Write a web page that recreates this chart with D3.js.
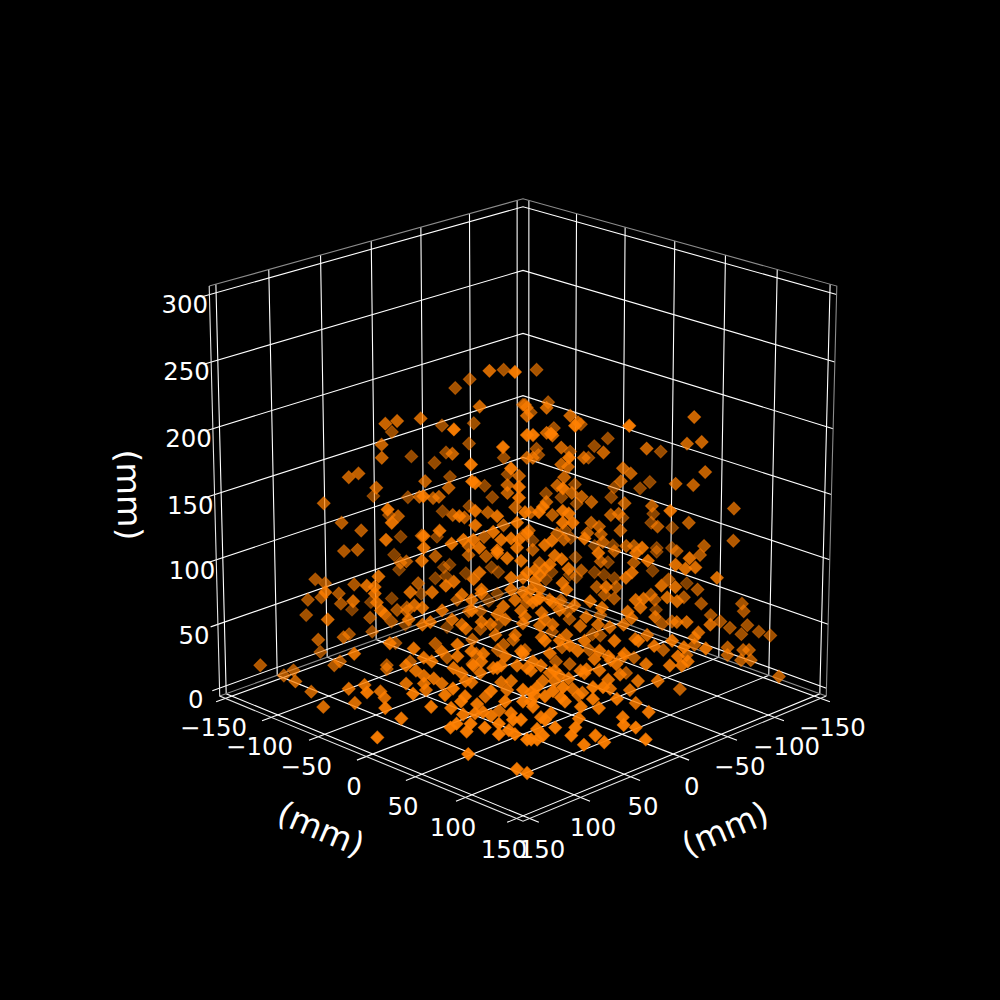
<!DOCTYPE html>
<html>
<head>
<meta charset="utf-8">
<script src="https://cdn.jsdelivr.net/npm/d3@7"></script>
<style>
    html, body { margin: 0; background: #000; }
    text { font-family: "DejaVu Sans", sans-serif; fill: #fff; }
</style>
</head>
<body>
<svg id="base" width="1000" height="1000"></svg>
<script>
// ticks
const xTicks = [-150, -100, -50, 0, 50, 100, 150];
const yTicks = [-150, -100, -50, 0, 50, 100, 150];
const zTicks = [0, 50, 100, 150, 200, 250, 300];
const axisLabel = "(mm)";

// points, [x, y, z] in mm, one array per part of the cloud
const upperLeft = [
    [-3,-37,234],[-50,-70,216],[24,16,252],[-32,-87,209],[-25,-95,202],[2,-42,207],[-34,-85,175],[32,-72,198],
    [44,-84,196],[50,-90,194],[8,-128,168],[-18,-102,173],[54,-15,209],[-32,-88,159],[52,-92,178],[52,-92,168],
    [-2,-118,149],[-14,-106,144],[-20,-100,152],[16,-56,171],[30,10,196],[-50,-70,148],[46,-6,183],[69,-109,153],
    [64,-104,156],[55,-95,145],[18,-138,118],[30,-70,150],[-22,-98,133],[18,-58,145],[82,-122,133],[0,-120,117],
    [33,-73,138],[70,-30,159],[26,-66,137],[23,-63,138],[45,-6,170],[44,-4,169],[-40,-80,126],[-44,-76,117],
    [26,14,180],[-52,-68,135],[-18,-22,154],[-12,-28,147],[22,18,166],[-12,-28,141],[22,18,158],[-60,-60,189],
    [-22,-18,200],[-62,-58,187],[18,22,205],[-22,-18,168],[88,-48,149],[10,-130,103],[44,-84,123],[86,-46,139],
    [73,-113,118],[63,-103,112],[-18,-102,106],[16,-56,124],[52,-12,144],[10,-50,122],[-32,-88,110],[44,-4,148],
    [-2,-38,126],[33,7,144],[-16,-24,130],[19,21,147],[23,17,139],[-10,-30,116],[35,5,132],[18,22,131],
    [62,-22,133],[70,-30,129],[32,-72,108],[-15,-105,86],[89,-49,126],[4,-124,86],[56,-16,123],[50,-10,126],
    [45,-5,126],[0,-40,107],[26,14,127],[22,18,126],[70,-30,120],[42,-2,120],[8,-48,100],[33,7,118],[23,17,120]
];
const upperRight = [
    [-67,-53,216],[-73,-47,191],[-61,-59,189],[-32,-8,206],[-64,-56,183],[-44,4,200],[-6,46,212],[-48,8,195],
    [-90,-30,174],[-76,-44,171],[-33,73,212],[-107,67,199],[15,25,205],[-32,-8,187],[6,34,206],[-35,-5,185],
    [-104,-16,163],[-97,-23,157],[-61,21,172],[-83,43,175],[-131,12,153],[-103,64,179],[-111,71,180],[-39,0,176],
    [-84,-35,153],[-67,-53,155],[-68,-52,150],[-25,-15,168],[-3,43,188],[-39,0,163],[-43,3,161],[-51,11,168],
    [-94,-26,148],[-41,1,153],[-71,31,160],[-75,35,156],[-113,73,157],[-98,58,148],[-107,67,147],[-126,6,129],
    [-121,1,124],[-70,30,150],[-107,-12,125],[-106,-14,117],[-87,-33,127],[-37,-2,147],[0,40,165],[-45,5,141],
    [-72,-48,120],[-80,-40,117],[-50,10,138],[-88,-32,112],[-55,15,134],[-72,32,133],[-86,46,131],[-54,94,148],
    [-128,88,129],[-128,8,104],[-65,25,124],[-69,29,125],[-112,-8,101],[-32,-8,134],[10,30,151],[12,28,147],
    [-24,-16,126],[-35,-5,124],[0,40,148],[-3,43,146],[0,40,139],[-5,45,139],[-55,15,118],[-59,19,115],
    [-60,20,109],[-127,7,97],[-89,49,115],[-138,18,93],[-105,65,118],[-70,30,112],[-23,-17,112],[-82,-38,91],
    [-37,-2,110],[5,34,125],[-41,1,105],[-53,13,110],[-11,51,127],[-85,-35,85],[-65,-55,83],[-60,-60,87],
    [-128,88,104],[-61,21,103],[-97,-22,79],[-107,-13,79],[-73,33,100],[-40,80,120],[-77,37,100],[-113,73,100],
    [-138,18,77],[-130,10,77]
];
const midLeft = [
    [72,-112,96],[65,-105,97],[8,-127,72],[71,-31,110],[25,-65,92],[43,-83,87],[40,-80,88],[5,-125,60],
    [93,-53,98],[87,-127,74],[82,-122,71],[120,-80,86],[67,-107,70],[99,-59,91],[95,-55,90],[75,-115,63],
    [91,-131,58],[84,-124,60],[106,-66,79],[74,-114,55],[30,-150,28],[20,-140,34],[92,-132,46],[119,-79,65],
    [59,-99,44],[95,-55,85],[94,-54,78],[9,-129,37],[92,-52,72],[90,-50,69],[45,-85,50],[40,-80,52],
    [75,-35,76],[71,-31,74],[77,-37,86],[-6,-113,41],[34,-74,71],[-14,-106,53],[66,-26,86],[-18,-101,62],
    [-21,-98,64],[-19,-100,55],[59,-19,91],[55,-15,94],[-30,-90,57],[8,-48,93],[45,-5,96],[42,-2,101],
    [-1,-39,92],[33,7,116],[28,12,112],[-43,-76,62],[-47,-73,58],[26,14,97],[20,20,97],[51,-11,84],
    [14,-54,58],[41,-1,85],[-46,-73,41],[20,20,86],[30,10,75],[21,19,72],[-22,-18,60],[46,-6,72],
    [2,-42,49],[-42,-78,35],[8,-48,49],[56,-16,65],[67,-27,63],[78,-38,65],[40,-80,49],[48,-88,41],
    [2,-122,16],[-20,-100,14],[58,-98,33],[49,-9,58],[2,-42,35],[-46,-73,16],[34,6,53],[20,20,62],
    [24,16,53],[73,7,57],[26,-26,38],[105,-105,38],[92,-92,40],[70,-110,31],[107,-27,58],[46,-86,24],
    [125,-45,50],[85,-125,17],[95,-15,54],[45,-45,35],[90,-10,47],[39,-39,24],[73,7,48],[60,20,50],
    [13,-13,30],[10,-10,34],[5,-5,38],[24,-24,27],[40,40,50],[65,15,41],[75,5,39],[58,-58,21],
    [70,-70,18],[53,27,39],[43,37,41]
];
const midRight = [
    [-25,-15,97],[0,39,111],[-28,-11,87],[6,33,107],[-75,-45,58],[14,26,95],[-3,43,104],[-87,-32,70],
    [-84,-35,56],[-50,10,81],[-88,-32,54],[-97,-22,58],[-18,58,116],[-60,20,88],[-104,-15,66],[-67,27,96],
    [-37,77,116],[-43,83,110],[-77,37,87],[-35,75,101],[-108,-12,53],[-32,72,97],[-102,-17,56],[-130,10,74],
    [-99,59,96],[-64,104,112],[-111,71,93],[-57,97,107],[-62,102,104],[-67,107,105],[-128,8,59],[-50,90,91],
    [-95,55,74],[-57,97,90],[-146,26,49],[-110,70,66],[-78,118,97],[-58,18,68],[-22,62,90],[-68,28,68],
    [0,40,93],[-2,42,88],[-72,-48,52],[11,28,81],[5,35,78],[-39,0,58],[-14,54,79],[-62,22,62],
    [-67,27,59],[-37,77,80],[-41,81,81],[-86,46,62],[-88,48,58],[-53,93,82],[-58,98,79],[-103,63,60],
    [-112,72,55],[-133,93,55],[-134,94,49],[-40,79,74],[-33,73,71],[-130,10,28],[-47,87,67],[-35,75,66],
    [-20,60,74],[-60,20,46],[-12,52,67],[-43,3,49],[-80,-40,33],[10,29,70],[-22,-18,56],[15,25,78],
    [19,21,67],[-58,98,63],[-63,103,63],[-97,57,41],[-117,77,46],[-75,115,61],[-122,82,41],[-127,87,36],
    [-136,96,38],[-133,93,31],[-142,102,33],[-148,108,30],[-69,109,55],[-67,107,51],[-92,52,39],[-24,64,59],
    [-56,16,31],[-60,20,30],[-9,49,60],[-44,4,43],[5,35,61],[11,28,60],[-2,42,53],[-35,-5,33],
    [10,29,51],[-37,77,50],[-35,115,60],[-41,121,55],[-88,88,34],[-52,132,54],[-105,105,32],[-113,113,30],
    [-116,116,30],[-105,105,26],[-112,112,22],[-117,117,22],[-72,72,30],[-38,118,48],[-84,84,26],[-40,120,41],
    [-34,114,41],[-22,102,42],[-57,57,24],[-11,91,50],[-51,51,24],[-3,83,48],[4,76,46],[12,67,52],
    [-34,34,30],[-20,20,32],[26,53,50],[35,45,44],[-1,1,30],[-24,24,19],[-17,17,21],[8,72,38],
    [-7,87,42],[38,42,39]
];
const lowLeft = [
    [135,-135,18],[118,-118,14],[123,-123,10],[136,-96,17],[97,-97,18],[94,-94,21],[128,-88,9],[141,-61,9],
    [128,-48,23],[125,-45,12],[120,-40,26],[138,-18,32],[112,-32,21],[110,-30,16],[129,-9,20],[121,-1,12],
    [150,5,8],[70,-70,15],[99,-19,41],[99,-19,27],[115,5,31],[90,-10,27],[94,-14,37],[90,-10,33],
    [85,-5,31],[81,-1,27],[99,21,30],[95,25,35],[106,14,21],[96,24,20],[71,9,35],[66,14,28],
    [89,31,29],[59,21,17],[83,37,23],[90,30,15],[84,36,16],[80,40,17],[52,28,6],[66,54,16],
    [85,75,23],[92,68,20],[99,61,17],[106,54,20],[108,52,14],[116,44,17],[113,47,20],[92,68,12],
    [87,73,15],[127,73,9],[123,117,10],[118,122,7],[98,102,20],[60,60,25],[48,32,22],[60,60,34],
    [51,29,28],[55,25,39],[61,18,35],[26,-26,19]
];
const lowRight = [
    [96,104,20],[73,87,16],[93,107,20],[70,90,11],[64,96,17],[54,106,17],[56,104,11],[44,116,11],
    [60,140,18],[70,130,16],[19,141,8],[24,136,17],[30,130,19],[10,110,13],[32,88,12],[46,74,16],
    [51,69,13],[55,65,21],[22,98,20],[-17,97,12],[-3,123,17],[13,107,27],[25,95,27],[12,68,18],
    [41,79,28],[34,46,18],[45,75,33],[40,80,36],[15,65,23],[10,70,20],[25,95,36],[20,100,36],
    [-4,84,23],[-14,94,22],[-28,108,29],[-60,100,11],[-121,141,15],[-3,83,30],[30,50,29],[53,67,36],
    [17,63,31],[36,44,37],[26,53,35],[9,71,35],[-9,89,34],[-53,53,12],[-45,45,22],[-43,123,44]
];
const denseMiddle = [
    [14,26,103],[11,28,99],[18,22,101],[9,31,104],[16,24,88],[13,27,80],[24,16,80],[29,11,65],
    [33,7,69],[36,3,61],[41,-1,63],[9,31,65],[21,58,60],[16,63,56],[9,71,60],[1,78,52],
    [-6,86,60],[-18,98,60],[-26,106,56],[86,-6,44],[66,14,52],[81,-1,52],[51,29,41],[46,34,29],
    [24,56,29],[11,69,37],[1,78,37],[49,71,29],[69,51,25],[76,44,33],[91,29,25],[89,-9,22],
    [81,79,23],[56,64,25],[39,81,25],[31,89,21],[21,58,33],[41,-1,88],[46,-6,80],[26,14,88],
    [11,28,88],[6,33,80],[1,38,72],[-6,46,76],[21,19,110],[31,9,126],[44,-4,137],[9,31,122],
    [4,36,114],[61,-21,72],[71,-31,61],[51,-11,61],[29,51,60],[41,39,52],[49,31,48],[31,49,41],
    [69,11,29],[61,19,44],[-18,58,61],[-31,71,61],[-43,83,53],[56,64,32],[76,44,14],[84,76,12],
    [69,91,23],[24,56,37],[-18,98,29]
];

// bounds of the box and of the view
const limXY = [-156.25, 156.25];
const limZ = [-6.25, 306.25];
const elevation = (20 * Math.PI) / 180;
const azimuth = (45 * Math.PI) / 180;
const eyeDist = 10;

const cubeX = d3.scaleLinear().domain(limXY).range([-0.5, 0.5]);
const cubeY = d3.scaleLinear().domain(limXY).range([-0.5, 0.5]);
const cubeZ = d3.scaleLinear().domain(limZ).range([-0.5, 0.5]);
const screenX = d3.scaleLinear().domain([-0.1, 0.1]).range([523 - 436.2, 523 + 436.2]);
const screenY = d3.scaleLinear().domain([-0.1, 0.1]).range([494.6 + 436.2, 494.6 - 436.2]);

// same view as a 3d axes looking from elevation / azimuth
function project(p) {
    const cx = cubeX(p[0]);
    const cy = cubeY(p[1]);
    const cz = cubeZ(p[2]);
    const ce = Math.cos(elevation), se = Math.sin(elevation);
    const ca = Math.cos(azimuth), sa = Math.sin(azimuth);
    const toward = cx * ce * ca + cy * ce * sa + cz * se;
    const right = -cx * sa + cy * ca;
    const up = -cx * se * ca - cy * se * sa + cz * ce;
    const w = eyeDist - toward;
    return { sx: screenX(right / w), sy: screenY(up / w), toward: toward };
}

const base = d3.select("#base");
const path = d3.line().x((d) => project(d).sx).y((d) => project(d).sy);

const [lo, hi] = limXY;
const [zLo, zHi] = limZ;

// grid on the floor and the two back walls
const gridLines = [];
xTicks.forEach((c) => gridLines.push([[c, hi + 9, zLo], [c, lo, zLo], [c, lo, zHi]]));
yTicks.forEach((c) => gridLines.push([[hi + 9, c, zLo], [lo, c, zLo], [lo, c, zHi]]));
zTicks.forEach((c) => gridLines.push([[hi + 7, lo, c], [lo, lo, c], [lo, hi, c]]));

base.append("g")
    .selectAll("path")
    .data(gridLines)
    .enter()
    .append("path")
    .attr("d", path)
    .attr("fill", "none")
    .attr("stroke", "#fff")
    .attr("stroke-width", 1.1);

// pane edges
const paneEdges = [
    [[hi, lo, zHi], [lo, lo, zHi], [lo, hi, zHi], [lo, hi, zLo]],
    [[hi, lo, zLo], [lo, lo, zLo], [lo, hi, zLo]]
];
base.append("g")
    .selectAll("path")
    .data(paneEdges)
    .enter()
    .append("path")
    .attr("d", path)
    .attr("fill", "none")
    .attr("stroke", "#8c8c8c")
    .attr("stroke-width", 1.1);

// axis lines
const axisLines = [
    [[lo, hi, zLo], [hi, hi, zLo], [hi, lo, zLo], [hi, lo, zHi]]
];
base.append("g")
    .selectAll("path")
    .data(axisLines)
    .enter()
    .append("path")
    .attr("d", path)
    .attr("fill", "none")
    .attr("stroke", "#e6e6e6")
    .attr("stroke-width", 1.1);

// points, far ones first
const points = [...upperLeft, ...upperRight, ...midLeft, ...midRight, ...lowLeft, ...lowRight, ...denseMiddle]
    .map((d) => project(d))
    .sort((a, b) => a.toward - b.toward);

const shade = d3.scaleLinear().domain([-0.35, 0.15]).range([0.5, 0.95]).clamp(true);
const diamond = d3.symbol().type(d3.symbolSquare).size(84);

base.append("g")
    .selectAll("path")
    .data(points)
    .enter()
    .append("path")
    .attr("d", diamond)
    .attr("transform", (d) => `translate(${d.sx},${d.sy}) rotate(45)`)
    .attr("fill", "#ff7f00")
    .attr("stroke", "#ff7f00")
    .attr("stroke-width", 1)
    .attr("fill-opacity", (d) => shade(d.toward))
    .attr("stroke-opacity", (d) => shade(d.toward) * 0.7);

// tick labels
const tickFormat = d3.format("d");
const tickLabels = [];
xTicks.forEach((c) => tickLabels.push({ v: c, p: project([c, hi + 12, zLo - 19]) }));
yTicks.forEach((c) => tickLabels.push({ v: c, p: project([hi + 12, c, zLo - 19]) }));
zTicks.forEach((c) => tickLabels.push({ v: c, p: project([hi + 23, lo, c - 2]) }));

base.append("g")
    .selectAll("text")
    .data(tickLabels)
    .enter()
    .append("text")
    .attr("x", (d) => d.p.sx)
    .attr("y", (d) => d.p.sy)
    .attr("text-anchor", "middle")
    .attr("dominant-baseline", "central")
    .attr("font-size", 24.4)
    .text((d) => tickFormat(d.v));

// axis labels
const labelSpots = [
    { x: 321, y: 829, angle: 23 },
    { x: 725, y: 829, angle: -23 },
    { x: 129, y: 495, angle: 88.6 }
];
base.append("g")
    .selectAll("text")
    .data(labelSpots)
    .enter()
    .append("text")
    .attr("transform", (d) => `translate(${d.x},${d.y}) rotate(${d.angle})`)
    .attr("text-anchor", "middle")
    .attr("dominant-baseline", "central")
    .attr("font-size", 33.3)
    .text(axisLabel);
</script>
</body>
</html>
